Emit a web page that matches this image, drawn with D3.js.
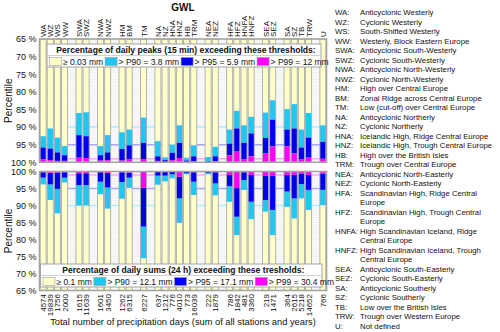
<!DOCTYPE html>
<html>
<head>
<meta charset="utf-8">
<script src="https://cdn.jsdelivr.net/npm/d3@7"></script>
<style>
  body { margin: 0; background: #fff; }
  text { font-family: "Liberation Sans", Arial, sans-serif; fill: #111; }
</style>
</head>
<body>
<script>
// weather types (GWL), a gap column goes in front of each group start
var gwl = ['WA','WZ','WS','WW','SWA','SWZ','NWA','NWZ','HM','BM','TM','NA','NZ','HNA','HNZ','HB','TRM',
  'NEA','NEZ','HFA','HFZ','HNFA','HNFZ','SEA','SEZ','SA','SZ','TB','TRW','U'];
var groupStarts = ['SWA','NWA','HM','TM','NA','NEA','HFA','SEA','SA','U'];

var gwlNames = ['Anticyclonic Westerly','Cyclonic Westerly','South-Shifted Westerly','Westerly, Block Eastern Europe',
  'Anticyclonic South-Westerly','Cyclonic South-Westerly','Anticyclonic North-Westerly','Cyclonic North-Westerly',
  'High over Central Europe','Zonal Ridge across Central Europe','Low (cut-off) over Central Europe',
  'Anticyclonic Northerly','Cyclonic Northerly','Icelandic High, Ridge Central Europe','Icelandic High, Trough Central Europe',
  'High over the British Isles','Trough over Central Europe','Anticyclonic North-Easterly','Cyclonic North-Easterly',
  'Scandinavian High, Ridge Central|Europe','Scandinavian High, Trough Central|Europe',
  'High Scandinavian Iceland, Ridge|Central Europe','High Scandinavian Iceland, Trough|Central Europe',
  'Anticyclonic South-Easterly','Cyclonic South-Easterly','Anticyclonic Southerly','Cyclonic Southerly',
  'Low over the British Isles','Trough over Western Europe','Not defined'];

// total number of precipitation days
var days = [4574,19839,1756,2000,1615,11639,1601,3450,1262,6315,6227,637,1212,776,4010,773,16039,
  222,1879,786,1842,481,3360,219,1471,364,2615,5218,14652,766];

// % of daily peaks (15 min) exceeding P90 / P95 / P99
var peakP90 = [7.4,9.6,7.0,4.6,14.0,14.2,4.6,7.7,8.5,9.3,12.7,6.0,1.4,5.0,10.5,1.3,4.8,
  1.5,4.4,9.3,14.6,10.5,12.9,14.1,17.6,15.1,16.5,9.3,14.0,10.5];
var peakP95 = [4.2,3.9,2.8,2.0,7.7,7.4,2.0,2.8,3.8,4.8,5.5,1.7,0.6,2.7,5.5,0.5,1.7,
  0.3,1.7,5.3,9.6,5.5,8.2,6.9,12.1,9.3,9.6,4.2,7.0,5.8];
var peakP99 = [0.8,0.6,0.4,0.4,1.3,1.2,0.5,0.6,0.5,0.8,0.8,0.4,0.1,0.6,1.2,0.1,0.3,
  0.0,0.3,2.0,3.2,0.8,1.7,2.6,4.5,4.5,2.5,0.8,1.5,1.0];

// % of daily sums (24 h) exceeding P90 / P95 / P99
var sumP90 = [3.8,8.4,12.3,3.2,10.0,10.0,6.7,10.9,8.0,4.8,25.5,3.9,2.9,2.0,15.1,0.8,6.9,
  0.8,7.0,8.9,18.7,5.4,14.0,11.8,18.7,10.4,13.8,7.9,11.3,9.9];
var sumP95 = [1.8,3.8,5.1,1.8,4.0,4.0,3.0,4.7,3.1,1.8,16.2,1.2,1.2,0.8,7.9,0.5,3.0,
  0.4,3.5,4.3,13.3,2.5,8.9,8.4,11.3,5.9,7.9,3.7,5.4,5.4];
var sumP99 = [0.2,0.4,0.3,0.2,0.5,0.5,0.2,0.4,0.2,0.3,4.8,0.1,0.1,0.1,1.5,0.0,0.2,
  0.0,0.2,1.0,4.9,0.2,1.0,1.3,1.3,1.0,1.0,0.7,1.0,0.7];

var yTicks = [65,70,75,80,85,90,95,100];
var peakLegend = ['\u2265 0.03 mm','> P90 = 3.8 mm','> P95 = 5.9 mm','> P99 = 12 mm'];
var sumLegend = ['\u2265 0.1 mm','> P90 = 12.1 mm','> P95 = 17.1 mm','> P99 = 30.4 mm'];
var colors = ['#ffffc8','#1ec8f2','#0000f0','#ff00ff'];

var width = 500, height = 332;
var left = 39.5, right = 326.5;

var svg = d3.select('body').append('svg')
  .attr('width', width)
  .attr('height', height);

var slots = [];
gwl.forEach(function(g) {
  if (groupStarts.indexOf(g) >= 0) slots.push('gap-' + g);
  slots.push(g);
});

var x = d3.scaleBand()
  .domain(slots)
  .range([left, right])
  .paddingInner(0.16)
  .paddingOuter(0.08);

var yTop = d3.scaleLinear().domain([65, 100]).range([39, 162.3]);
var yBot = d3.scaleLinear().domain([100, 65]).range([171.5, 290.5]);

function panel(y, p90, p95, p99) {
  var g = svg.append('g');
  var y0 = Math.min(y(65), y(100)), y1 = Math.max(y(65), y(100));

  g.append('rect').attr('x', left).attr('y', y0).attr('width', right - left).attr('height', y1 - y0)
    .attr('fill', '#fff');

  // fine background hatch
  g.selectAll('.hatch').data(d3.range(65.5, 100, 0.5)).join('line')
    .attr('x1', left).attr('x2', right)
    .attr('y1', function(d) { return y(d); }).attr('y2', function(d) { return y(d); })
    .attr('stroke', '#ececec').attr('stroke-width', 0.8);

  // reference lines at 90, 95, 99 %
  g.selectAll('.ref').data([[90, '#aeeafa'], [95, '#a6a6f2'], [99, '#ffa2ff']]).join('line')
    .attr('x1', left).attr('x2', right)
    .attr('y1', function(d) { return y(d[0]); }).attr('y2', function(d) { return y(d[0]); })
    .attr('stroke', function(d) { return d[1]; }).attr('stroke-width', 1.5);

  var bars = g.selectAll('.bar').data(gwl).join('g')
    .attr('transform', function(d) { return 'translate(' + x(d) + ',0)'; });

  bars.selectAll('rect.seg').data(function(d, i) {
    var b = [65, 100 - p90[i], 100 - p95[i], 100 - p99[i], 100];
    return [0, 1, 2, 3].map(function(k) { return { a: b[k], b: b[k + 1], c: colors[k] }; });
  }).join('rect')
    .attr('class', 'seg')
    .attr('x', 0)
    .attr('width', x.bandwidth())
    .attr('y', function(d) { return Math.min(y(d.a), y(d.b)); })
    .attr('height', function(d) { return Math.abs(y(d.a) - y(d.b)); })
    .attr('fill', function(d) { return d.c; });

  bars.append('rect')
    .attr('x', 0).attr('y', y0)
    .attr('width', x.bandwidth()).attr('height', y1 - y0)
    .attr('fill', 'none').attr('stroke', '#ababab').attr('stroke-width', 0.9);

  g.append('rect').attr('x', left).attr('y', y0).attr('width', right - left).attr('height', y1 - y0)
    .attr('fill', 'none').attr('stroke', '#a4a4a4').attr('stroke-width', 1.6);

  var axis = d3.axisLeft(y)
    .tickValues(yTicks)
    .tickSize(0)
    .tickPadding(3)
    .tickFormat(function(d) { return d + ' %'; });

  svg.append('g')
    .attr('transform', 'translate(' + left + ',0)')
    .call(axis)
    .call(function(a) { a.select('.domain').remove(); })
    .selectAll('text')
      .style('font-family', '"Liberation Sans", Arial, sans-serif')
      .style('font-size', '9px')
      .attr('fill', '#222');

  svg.append('text')
    .attr('transform', 'translate(12,' + ((y0 + y1) / 2) + ') rotate(-90)')
    .attr('text-anchor', 'middle')
    .style('font-size', '10px')
    .text('Percentile');
}

panel(yTop, peakP90, peakP95, peakP99);
panel(yBot, sumP90, sumP95, sumP99);

// legend boxes inside the panels
function legendBox(x0, y0, x1, title, labels) {
  var g = svg.append('g');
  g.append('rect').attr('x', x0).attr('y', y0).attr('width', x1 - x0).attr('height', 23)
    .attr('fill', '#fff').attr('stroke', '#a4a4a4').attr('stroke-width', 1);
  g.append('line').attr('x1', x0).attr('x2', x1).attr('y1', y0 + 11.5).attr('y2', y0 + 11.5)
    .attr('stroke', '#d0d0d0');
  g.append('text')
    .attr('x', (x0 + x1) / 2 + 2).attr('y', y0 + 9)
    .attr('text-anchor', 'middle')
    .style('font-size', '8.6px').style('font-weight', 'bold')
    .text(title);
  var cx = x0 + 2.5;
  labels.forEach(function(l, i) {
    g.append('rect').attr('x', cx).attr('y', y0 + 13.5).attr('width', 12).attr('height', 8)
      .attr('fill', colors[i]).attr('stroke', '#999').attr('stroke-width', 0.6);
    var t = g.append('text').attr('x', cx + 13.5).attr('y', y0 + 20.5)
      .style('font-size', '8.5px').text(l);
    cx += 13.5 + t.node().getComputedTextLength() + 2;
  });
}

legendBox(47, 44, 321, 'Percentage of daily peaks (15 min) exceeding these thresholds:', peakLegend);
legendBox(40.5, 264, 322, 'Percentage of daily sums (24 h) exceeding these tresholds:', sumLegend);

// GWL labels on top
svg.selectAll('.gwl').data(gwl).join('text')
  .attr('transform', function(d) { return 'translate(' + (x(d) + x.bandwidth() / 2 + 3) + ',37) rotate(-90)'; })
  .style('font-size', '8px')
  .text(function(d) { return d; });

svg.append('text')
  .attr('x', (left + right) / 2).attr('y', 11)
  .attr('text-anchor', 'middle')
  .style('font-size', '10px').style('font-weight', 'bold')
  .text('GWL');

// day counts below
svg.selectAll('.days').data(gwl).join('text')
  .attr('transform', function(d) { return 'translate(' + (x(d) + x.bandwidth() / 2 + 3) + ',294) rotate(-90)'; })
  .attr('text-anchor', 'end')
  .style('font-size', '8px')
  .text(function(d, i) { return days[i]; });

svg.append('text')
  .attr('x', (left + right) / 2).attr('y', 325)
  .attr('text-anchor', 'middle')
  .style('font-size', '9.3px')
  .text('Total number of precipitation days (sum of all stations and years)');

// code list on the right
var line = 0;
gwl.forEach(function(g, i) {
  var parts = gwlNames[i].split('|');
  svg.append('text').attr('x', 335).attr('y', 15 + line * 9.5)
    .style('font-size', '7.8px').text(g + ':');
  parts.forEach(function(p) {
    svg.append('text').attr('x', 360).attr('y', 15 + line * 9.5)
      .style('font-size', '7.8px').text(p);
    line++;
  });
});
</script>
</body>
</html>
